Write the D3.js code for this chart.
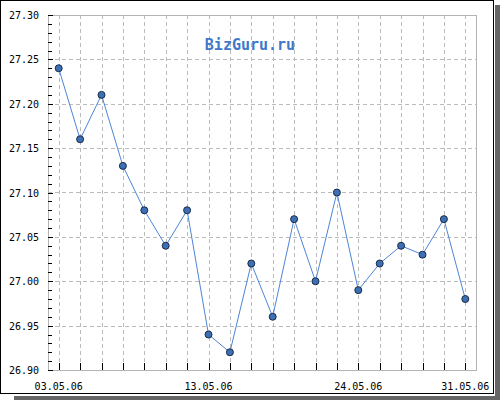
<!DOCTYPE html>
<html>
<head>
<meta charset="utf-8">
<script src="https://cdn.jsdelivr.net/npm/d3@7"></script>
<style>
  body { margin: 0; background: #fff; }
  svg { display: block; }
</style>
</head>
<body>
<svg id="chart" width="500" height="400"></svg>
<script>
// dates of the rate (business days, May 2006)
var dates = ["03.05.06", "04.05.06", "05.05.06", "06.05.06", "10.05.06", "11.05.06",
  "12.05.06", "13.05.06", "16.05.06", "17.05.06", "18.05.06", "19.05.06", "20.05.06",
  "23.05.06", "24.05.06", "25.05.06", "26.05.06", "27.05.06", "30.05.06", "31.05.06"];
var rates = [27.24, 27.16, 27.21, 27.13, 27.08, 27.04, 27.08, 26.94, 26.92, 27.02,
  26.96, 27.07, 27.00, 27.10, 26.99, 27.02, 27.04, 27.03, 27.07, 26.98];
var xLabels = ["03.05.06", "13.05.06", "24.05.06", "31.05.06"];
var yTicks = [26.90, 26.95, 27.00, 27.05, 27.10, 27.15, 27.20, 27.25, 27.30];

var svg = d3.select("#chart");

// frame with shadow
svg.append("rect").attr("x", 495).attr("y", 5).attr("width", 5).attr("height", 395).attr("fill", "#666");
svg.append("rect").attr("x", 14).attr("y", 396).attr("width", 486).attr("height", 4).attr("fill", "#666");
svg.append("rect").attr("x", 0.5).attr("y", 0.5).attr("width", 493).attr("height", 393)
  .attr("fill", "#fff").attr("stroke", "#000");

var pLeft = 48, pRight = 476, pTop = 15, pBottom = 370;

var x = d3.scalePoint().domain(dates).range([pLeft, pRight]).padding(0.5);
var y = d3.scaleLinear().domain([26.90, 27.30]).range([pBottom, pTop]);

// grid
svg.append("g").selectAll("line")
  .data(yTicks.slice(1, -1))
  .enter().append("line")
  .attr("x1", pLeft).attr("x2", pRight)
  .attr("y1", d => Math.round(y(d)) + 0.5).attr("y2", d => Math.round(y(d)) + 0.5)
  .attr("stroke", "#bbb").attr("stroke-dasharray", "4,3");

svg.append("g").selectAll("line")
  .data(dates)
  .enter().append("line")
  .attr("x1", d => Math.round(x(d)) + 0.5).attr("x2", d => Math.round(x(d)) + 0.5)
  .attr("y1", pTop).attr("y2", pBottom)
  .attr("stroke", "#bbb").attr("stroke-dasharray", "4,3");

// plot border
svg.append("rect").attr("x", pLeft + 0.5).attr("y", pTop + 0.5)
  .attr("width", pRight - pLeft).attr("height", pBottom - pTop)
  .attr("fill", "none").attr("stroke", "#b4b4b4");

// y ticks: minor each 0.01, major each 0.05
var minor = d3.range(0, 41).map(i => 26.90 + i * 0.01);
svg.append("g").selectAll("line")
  .data(minor)
  .enter().append("line")
  .attr("x1", pLeft).attr("x2", (d, i) => i % 5 === 0 ? pLeft + 5 : pLeft + 4)
  .attr("y1", d => Math.round(y(d)) + 0.5).attr("y2", d => Math.round(y(d)) + 0.5)
  .attr("stroke", "#000");

svg.append("g").selectAll("text")
  .data(yTicks)
  .enter().append("text")
  .attr("x", 39).attr("y", d => y(d) + 4)
  .attr("text-anchor", "end")
  .attr("font-family", "DejaVu Sans Mono").attr("font-size", 10)
  .text(d => d.toFixed(2));

// x ticks
svg.append("g").selectAll("line")
  .data(dates)
  .enter().append("line")
  .attr("x1", d => Math.round(x(d)) + 0.5).attr("x2", d => Math.round(x(d)) + 0.5)
  .attr("y1", pBottom - 7).attr("y2", pBottom)
  .attr("stroke", "#000");

svg.append("g").selectAll("text")
  .data(xLabels)
  .enter().append("text")
  .attr("x", d => x(d)).attr("y", 390)
  .attr("text-anchor", "middle")
  .attr("font-family", "DejaVu Sans Mono").attr("font-size", 10)
  .text(d => d);

// watermark
svg.append("text")
  .attr("x", 250).attr("y", 50)
  .attr("text-anchor", "middle")
  .attr("font-family", "DejaVu Sans Mono").attr("font-size", 15)
  .attr("font-weight", "bold")
  .attr("fill", "#3f77c9")
  .text("BizGuru.ru");

// line + points
var line = d3.line().x((d, i) => x(dates[i])).y(d => y(d));
svg.append("path").datum(rates)
  .attr("d", line).attr("fill", "none")
  .attr("stroke", "#4d85d6").attr("stroke-width", 1);

svg.append("g").selectAll("circle")
  .data(rates)
  .enter().append("circle")
  .attr("cx", (d, i) => x(dates[i])).attr("cy", d => y(d)).attr("r", 3.5)
  .attr("fill", "#3c6fb4").attr("stroke", "#1b2b48").attr("stroke-width", 1);
</script>
</body>
</html>
